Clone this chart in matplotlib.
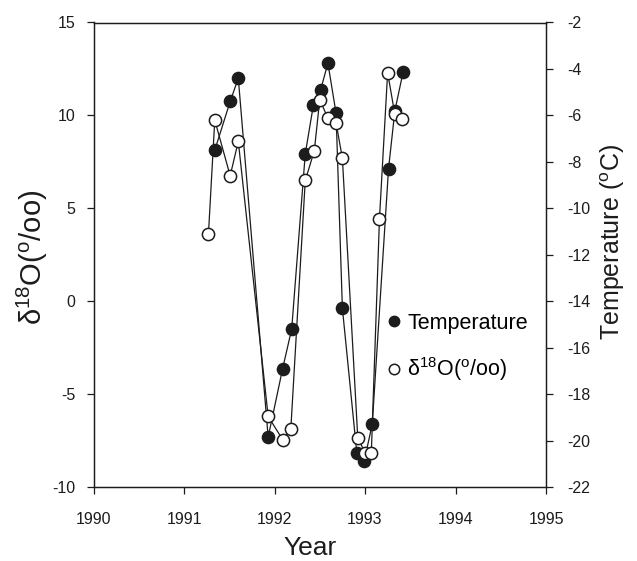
import matplotlib
matplotlib.use('Agg')
import matplotlib.pyplot as plt
from matplotlib.lines import Line2D

plt.rcParams['font.family'] = ['Liberation Sans', 'DejaVu Sans']
plt.rcParams['mathtext.fontset'] = 'custom'
plt.rcParams['mathtext.rm'] = 'Liberation Sans'
plt.rcParams['mathtext.it'] = 'Liberation Sans:italic'
plt.rcParams['mathtext.bf'] = 'Liberation Sans:bold'
plt.rcParams['axes.unicode_minus'] = False

# ---- data ----
years_temp = [1991.34, 1991.51, 1991.60, 1991.93, 1992.09, 1992.19, 1992.34, 1992.43,
              1992.51, 1992.59, 1992.68, 1992.75, 1992.91, 1992.99, 1993.08, 1993.26,
              1993.33, 1993.42]
temperature = [-7.5, -5.4, -4.4, -19.85, -16.9, -15.2, -7.65, -5.55,
               -4.9, -3.75, -5.9, -14.3, -20.55, -20.9, -19.3, -8.3,
               -5.8, -4.15]

years_d18o = [1991.27, 1991.34, 1991.51, 1991.60, 1991.93, 1992.09, 1992.18, 1992.34,
              1992.44, 1992.50, 1992.59, 1992.68, 1992.75, 1992.92, 1993.00, 1993.07,
              1993.16, 1993.25, 1993.33, 1993.41]
d18o = [3.6, 9.75, 6.75, 8.6, -6.2, -7.45, -6.9, 6.5,
        8.1, 10.85, 9.85, 9.6, 7.7, -7.35, -8.15, -8.15,
        4.45, 12.3, 10.05, 9.8]

x_ticks = [1990, 1991, 1992, 1993, 1994, 1995]
d18o_ticks = [-10, -5, 0, 5, 10, 15]
temp_ticks = [-22, -20, -18, -16, -14, -12, -10, -8, -6, -4, -2]

label_d18o = r'δ$^{18}$O($^{\rm o}$/oo)'
label_temp = 'Temperature'

# ---- figure ----
W, H = 637, 561
fig = plt.figure(figsize=(W / 100, H / 100), dpi=100)
fig.patch.set_facecolor('white')
ax = fig.add_axes([93.5 / W, 1 - 487 / H, (546 - 93.5) / W, (487 - 22.5) / H])
ax2 = ax.twinx()

ink = '#1c1c1c'
ax2.plot(years_temp, temperature, '-o', color=ink, lw=0.9, ms=8.8,
         mfc=ink, mec=ink, mew=1.0, zorder=3)
ax.plot(years_d18o, d18o, '-o', color=ink, lw=0.9, ms=8.8,
        mfc='white', mec=ink, mew=1.1, zorder=3)
ax.set_zorder(ax2.get_zorder() + 1)
ax.patch.set_visible(False)

ax.set_xlim(1990, 1995)
ax.set_ylim(-10, 15)
ax2.set_ylim(-22, -2)
ax.set_xticks(x_ticks)
ax.set_yticks(d18o_ticks)
ax2.set_yticks(temp_ticks)

for a in (ax, ax2):
    for s in a.spines.values():
        s.set_linewidth(0.9)
        s.set_color(ink)

ax.tick_params(axis='both', direction='out', length=5, width=0.9,
               labelsize=11.5, colors=ink)
ax.tick_params(axis='x', pad=13)
ax.tick_params(axis='y', pad=8)
ax2.tick_params(axis='y', direction='out', length=5, width=0.9,
                labelsize=11.5, colors=ink, pad=10)

fig.text(32 / W, 1 - 257 / H, label_d18o, rotation=90, ha='center', va='center',
         fontsize=21, color=ink)
fig.text(613 / W, 1 - 242 / H, 'Temperature ($^{\\rm o}$C)', rotation=90,
         ha='center', va='center', fontsize=18, color=ink)
fig.text(310 / W, 1 - 548 / H, 'Year', ha='center', va='center',
         fontsize=19, color=ink)

handles = [Line2D([], [], marker='o', ls='none', mfc=ink, mec=ink, ms=7.5),
           Line2D([], [], marker='o', ls='none', mfc='white', mec=ink, mew=1.1, ms=7.5)]
ax.legend(handles, [label_temp, label_d18o], loc='upper left',
          bbox_to_anchor=(389 / W, 1 - 313 / H), bbox_transform=fig.transFigure,
          frameon=False, fontsize=15.5, handlelength=0.5, handletextpad=0.35,
          labelspacing=1.0, borderpad=0, borderaxespad=0)

fig.savefig('out.png', dpi=100, facecolor='white')
